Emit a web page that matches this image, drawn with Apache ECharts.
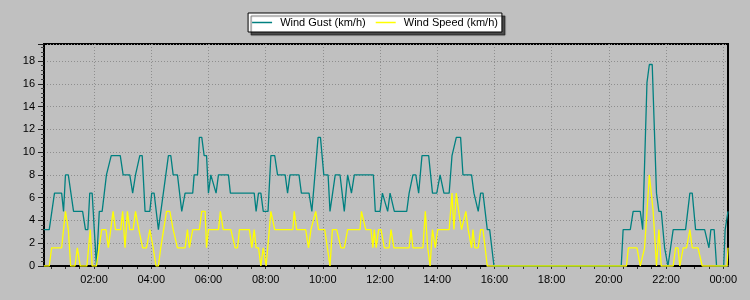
<!DOCTYPE html>
<html><head><meta charset="utf-8">
<script src="https://cdn.jsdelivr.net/npm/echarts@6/dist/echarts.min.js"></script>
<style>html,body{margin:0;padding:0;background:#c0c0c0}#c{width:750px;height:300px}</style>
</head><body><div id="c"></div>
<script>
// time = minutes since midnight of the first day (1440 = 00:00 next day)
const gustTimes = [15,26,37,52,56,60,66,77,96,102,107,111,116,125,131,137,146,150,156,175,181,195,201,207,211,216,221,227,237,241,246,255,276,281,286,295,304,311,327,330,337,341,346,351,356,360,365,369,376,381,402,406,456,460,465,470,475,485,491,499,505,521,526,531,550,555,571,577,580,590,595,602,611,615,626,636,645,652,660,666,706,710,720,725,729,736,741,745,750,776,781,785,789,795,801,808,822,830,839,846,850,854,865,871,875,880,889,894,912,917,919,926,931,936,945,950,959,1226,1230,1245,1251,1266,1271,1275,1280,1285,1291,1300,1305,1310,1317,1321,1324,1335,1361,1370,1375,1382,1401,1410,1414,1421,1426,1441,1444,1448,1450];
const gustValues = [3.2,3.2,6.4,6.4,4.8,8.0,8.0,4.8,4.8,3.2,3.2,6.4,6.4,0,4.8,4.8,8.0,8.0,9.7,9.7,8.0,8.0,6.4,8.0,8.0,9.7,9.7,4.8,4.8,6.4,6.4,3.2,9.7,9.7,8.0,8.0,4.8,6.4,6.4,8.0,8.0,11.3,11.3,9.7,9.7,6.4,8.0,8.0,6.4,8.0,8.0,6.4,6.4,4.8,6.4,6.4,4.8,4.8,9.7,9.7,8.0,8.0,6.4,8.0,8.0,6.4,6.4,4.8,4.8,11.3,11.3,8.0,8.0,4.8,8.0,8.0,4.8,8.0,6.4,8.0,8.0,4.8,4.8,6.4,6.4,4.8,6.4,6.4,4.8,4.8,6.4,6.4,8.0,8.0,6.4,9.7,9.7,6.4,6.4,8.0,8.0,6.4,6.4,9.7,9.7,11.3,11.3,8.0,8.0,6.4,6.4,4.8,6.4,6.4,3.2,3.2,0,0,3.2,3.2,4.8,4.8,3.2,3.2,16.1,17.7,17.7,6.4,4.8,4.8,1.6,1.6,0,3.2,3.2,6.4,6.4,3.2,3.2,1.6,3.2,3.2,0,0,3.2,3.2,4.8];
const speedTimes = [15,26,31,52,60,66,71,80,85,91,105,112,116,125,136,145,150,160,165,176,180,185,190,195,202,207,214,222,230,237,244,250,255,260,272,279,286,290,295,311,316,320,327,341,346,353,356,360,381,385,391,407,416,421,425,446,451,456,460,465,470,475,481,491,499,537,540,545,564,570,575,578,585,591,604,615,620,629,638,645,652,678,681,685,690,701,705,708,712,717,722,729,739,743,749,781,785,789,810,815,820,825,830,836,841,865,871,875,880,885,891,900,905,912,915,919,926,931,936,945,1237,1241,1259,1266,1270,1275,1285,1293,1300,1305,1310,1335,1340,1345,1349,1356,1363,1370,1375,1387,1396,1448,1450];
const speedValues = [0,0,1.6,1.6,4.8,3.2,0,0,1.6,0,0,3.2,0,0,3.2,3.2,1.6,4.8,3.2,3.2,4.8,1.6,4.8,3.2,3.2,4.8,3.2,1.6,1.6,3.2,1.6,0,0,1.6,4.8,4.8,3.2,3.2,1.6,1.6,3.2,1.6,3.2,3.2,4.8,4.8,1.6,3.2,3.2,4.8,3.2,3.2,1.6,1.6,3.2,3.2,1.6,3.2,1.6,1.6,0,1.6,0,4.8,3.2,3.2,4.8,3.2,3.2,1.6,3.2,3.2,4.8,3.2,3.2,0,3.2,3.2,1.6,1.6,3.2,3.2,4.8,4.8,3.2,3.2,1.6,3.2,1.6,3.2,3.2,1.6,1.6,3.2,1.6,1.6,3.2,1.6,1.6,4.8,1.6,0,3.2,1.6,3.2,3.2,6.4,3.2,6.4,4.8,3.2,4.8,3.2,1.6,3.2,1.6,1.6,3.2,3.2,0,0,1.6,1.6,0,0,1.6,8.0,4.8,0,3.2,0,0,1.6,1.6,0,1.6,1.6,3.2,1.6,1.6,0,0,1.6];
// dark baseline segments visible along the zero line
const baseStarts = [15, 1237, 1334];
const baseEnds = [943, 1308, 1397];
const timeTicks = [120,240,360,480,600,720,840,960,1080,1200,1320,1440];
const timeLabels = ['02:00','04:00','06:00','08:00','10:00','12:00','14:00','16:00','18:00','20:00','22:00','00:00'];
const halfHourTicks = [30,60,90,120,150,180,210,240,270,300,330,360,390,420,450,480,510,540,570,600,630,660,690,720,750,780,810,840,870,900,930,960,990,1020,1050,1080,1110,1140,1170,1200,1230,1260,1290,1320,1350,1380,1410,1440];
const xMin = 15, xMax = 1450;
const yMin = 0, yMax = 19.5, yStep = 2;

const FONT = 'Liberation Sans, Arial, sans-serif';
const gustData = gustTimes.map((t, i) => [t, gustValues[i]]);
const speedData = speedTimes.map((t, i) => [t, speedValues[i]]);
const baseData = [];
baseStarts.forEach((s, i) => { if (i) baseData.push([s, '-']); baseData.push([s, 0], [baseEnds[i], 0]); });

const grid = { left: 44, right: 22, top: 44, bottom: 34, show: true, borderColor: '#000', borderWidth: 2 };
const dotted = { color: '#8e8e8e', width: 1, type: [1, 2] };

const chart = echarts.init(document.getElementById('c'), null, { renderer: 'canvas' });
chart.setOption({
  backgroundColor: '#c0c0c0',
  animation: false,
  textStyle: { fontFamily: FONT },
  legend: {
    top: 13, left: 'center',
    data: [
      { name: 'Wind Gust (km/h)', icon: 'rect', itemStyle: { color: '#008080' } },
      { name: 'Wind Speed (km/h)', icon: 'rect', itemStyle: { color: '#ffff00' } }
    ],
    formatter: n => ' ' + n,
    backgroundColor: '#ffffff', borderColor: '#000', borderWidth: 1,
    padding: [4, 4], itemGap: 10, itemWidth: 20, itemHeight: 1.5,
    shadowColor: 'rgba(0,0,0,0.6)', shadowBlur: 1, shadowOffsetX: 3, shadowOffsetY: 3,
    textStyle: { fontSize: 11, color: '#000', fontFamily: FONT }
  },
  grid: grid,
  xAxis: [{
    type: 'value', min: xMin, max: xMax, position: 'bottom',
    axisLine: { show: true, onZero: false, lineStyle: { color: '#505050', width: 2 } },
    axisTick: { show: true, customValues: timeTicks, length: 3, lineStyle: { color: '#303030' } },
    axisLabel: { customValues: timeTicks, color: '#000', fontSize: 11, margin: 8, fontFamily: FONT,
      formatter: v => timeLabels[timeTicks.indexOf(Math.round(v))] || '' },
    splitLine: { show: true, lineStyle: dotted }
  }, {
    type: 'value', min: xMin, max: xMax, position: 'bottom',
    axisLine: { show: false, onZero: false },
    axisTick: { show: true, customValues: halfHourTicks, length: 3, lineStyle: { color: '#303030' } },
    axisLabel: { show: false },
    splitLine: { show: false }
  }],
  yAxis: {
    type: 'value', min: yMin, max: yMax, interval: yStep,
    axisLine: { show: true, lineStyle: { color: '#000', width: 2 } },
    axisTick: { show: true, length: 6, lineStyle: { color: '#202020' } },
    minorTick: { show: true, splitNumber: 5, length: 3, lineStyle: { color: '#404040' } },
    axisLabel: { color: '#000', fontSize: 11, margin: 9, showMaxLabel: false, fontFamily: FONT },
    splitLine: { show: true, lineStyle: dotted }
  },
  series: [{
    name: 'base', type: 'line', data: baseData, symbol: 'none', silent: true,
    lineStyle: { color: '#000', width: 2 }, z: 1
  }, {
    name: 'Wind Gust (km/h)', type: 'line', data: gustData, symbol: 'none',
    lineStyle: { color: '#008080', width: 1.3 }, itemStyle: { color: '#008080' }, z: 2
  }, {
    name: 'Wind Speed (km/h)', type: 'line', data: speedData, symbol: 'none',
    lineStyle: { color: '#ffff00', width: 1.3 }, itemStyle: { color: '#ffff00' }, z: 3
  }]
});
</script></body></html>
